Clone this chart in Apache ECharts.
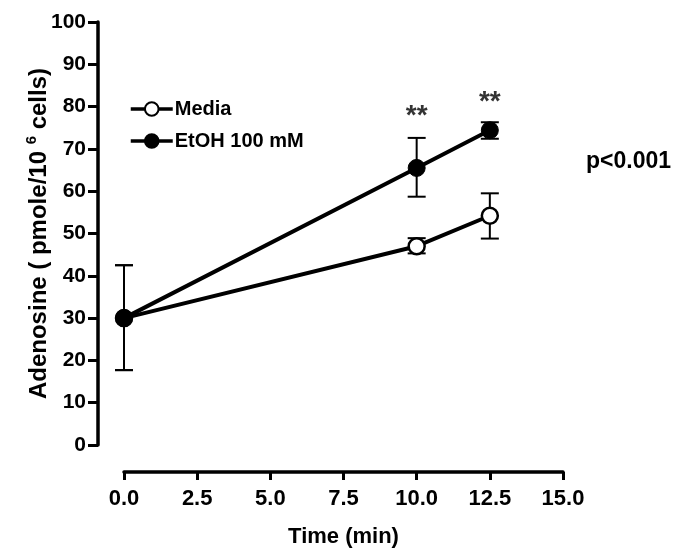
<!DOCTYPE html>
<html><head><meta charset="utf-8">
<script src="https://cdn.jsdelivr.net/npm/echarts@6/dist/echarts.min.js"></script>
<style>html,body{margin:0;padding:0;background:#fff}#c{width:687px;height:558px}</style>
</head><body><div id="c"></div>
<script>
const times = [0, 10, 12.5];
const mediaMean = [30, 47.0, 54.2];
const mediaLow  = [17.7, 45.3, 48.8];
const mediaHigh = [42.5, 48.9, 59.5];
const etohMean = [30, 65.5, 74.4];
const etohLow  = [17.7, 58.7, 72.4];
const etohHigh = [42.5, 72.6, 76.3];
const starTimes = [10, 12.5];
const starValues = [77.6, 81];
const xTicks = {min: 0, max: 15, interval: 2.5};
const yTicks = {min: 0, max: 100, interval: 10};
const FONT = 'Liberation Sans, Arial, sans-serif';

function pts(means){ return times.map((t,i)=>[t, means[i]]); }
function errs(means, lo, hi){ return times.map((t,i)=>[t, means[i], lo[i], hi[i]]); }

function errRender(params, api){
  const x = api.value(0);
  const lo = api.coord([x, api.value(2)]);
  const hi = api.coord([x, api.value(3)]);
  const w = 9;
  const st = {stroke:'#000', lineWidth:2};
  return {type:'group', children:[
    {type:'line', shape:{x1:lo[0], y1:lo[1], x2:hi[0], y2:hi[1]}, style:st},
    {type:'line', shape:{x1:lo[0]-w, y1:lo[1], x2:lo[0]+w, y2:lo[1]}, style:st},
    {type:'line', shape:{x1:hi[0]-w, y1:hi[1], x2:hi[0]+w, y2:hi[1]}, style:st}
  ]};
}

const chart = echarts.init(document.getElementById('c'), null, {renderer:'canvas'});
chart.setOption({
  animation:false,
  textStyle:{fontFamily:FONT},
  grid:{left:124, right:124, top:22, bottom:113},
  legend:{
    orient:'vertical', left:124, top:94, itemGap:12,
    itemWidth:42, itemHeight:17,
    data:['Media','EtOH 100 mM'],
    lineStyle:{width:3.5},
    textStyle:{fontSize:20, fontWeight:'bold', color:'#000', fontFamily:FONT, padding:[0,0,0,-3]}
  },
  xAxis:{
    type:'value', min:xTicks.min, max:xTicks.max, interval:xTicks.interval,
    offset:27,
    axisLine:{show:true, onZero:false, lineStyle:{color:'#000', width:3.5}},
    axisTick:{show:true, length:8, lineStyle:{color:'#000', width:3}},
    splitLine:{show:false},
    axisLabel:{color:'#000', fontSize:22, fontWeight:'bold', margin:16, fontFamily:FONT,
      formatter:v=>v.toFixed(1)},
    name:'Time (min)', nameLocation:'middle', nameGap:54,
    nameTextStyle:{color:'#000', fontSize:22, fontWeight:'bold', fontFamily:FONT}
  },
  yAxis:{
    type:'value', min:yTicks.min, max:yTicks.max, interval:yTicks.interval,
    offset:26,
    axisLine:{show:true, onZero:false, lineStyle:{color:'#000', width:3.5}},
    axisTick:{show:true, length:10, lineStyle:{color:'#000', width:3}},
    splitLine:{show:false},
    axisLabel:{color:'#000', fontSize:21, fontWeight:'bold', margin:12, fontFamily:FONT},
    name:'Adenosine ( pmole/10 {sup|6} cells)', nameLocation:'middle', nameGap:43,
    nameMoveOverlap:false,
    nameTextStyle:{color:'#000', fontSize:24, fontWeight:'bold', fontFamily:FONT,
      rich:{sup:{fontSize:15, fontWeight:'bold', color:'#000', fontFamily:FONT, padding:[0,0,16,0]}}}
  },
  series:[
    {type:'custom', name:'mediaErr', renderItem:errRender, data:errs(mediaMean, mediaLow, mediaHigh), z:1, silent:true},
    {type:'custom', name:'etohErr', renderItem:errRender, data:errs(etohMean, etohLow, etohHigh), z:1, silent:true},
    {type:'line', name:'Media', data:pts(mediaMean), symbol:'circle', symbolSize:16, z:3,
      lineStyle:{color:'#000', width:4},
      itemStyle:{color:'#fff', borderColor:'#000', borderWidth:2.5}},
    {type:'line', name:'EtOH 100 mM', data:pts(etohMean), symbol:'circle', symbolSize:17, z:4,
      lineStyle:{color:'#000', width:4},
      itemStyle:{color:'#000', borderColor:'#000', borderWidth:1}},
    {type:'scatter', name:'stars', data:starTimes.map((t,i)=>[t, starValues[i]]), symbolSize:0, silent:true,
      label:{show:true, position:'inside', formatter:'**', color:'#000', fontSize:28, fontWeight:'bold', fontFamily:FONT}}
  ],
  graphic:[
    {type:'text', left:586, top:150, style:{text:'p<0.001', fill:'#000', font:'bold 23px Liberation Sans, Arial, sans-serif'}}
  ]
});
</script></body></html>
